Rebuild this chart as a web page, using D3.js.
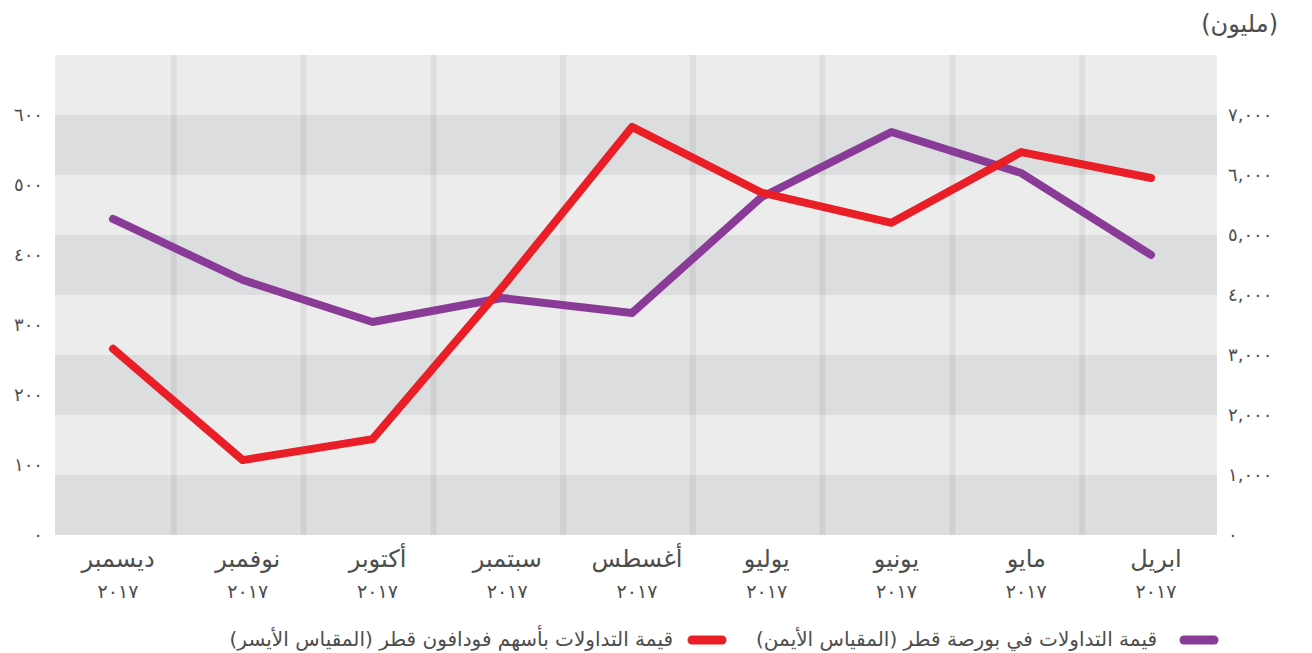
<!DOCTYPE html>
<html>
<head>
<meta charset="utf-8">
<script src="https://cdn.jsdelivr.net/npm/d3@7"></script>
<style>
  body { margin: 0; background: #fff; }
  text { font-family: 'DejaVu Sans', sans-serif; fill: #4d4d4d; }
</style>
</head>
<body>
<script>
// variables:
var w = 1312
var h = 653

// data, months run right-to-left from ابريل to ديسمبر
var months = ['ديسمبر', 'نوفمبر', 'أكتوبر', 'سبتمبر', 'أغسطس', 'يوليو', 'يونيو', 'مايو', 'ابريل']
var yearLabel = '٢٠١٧'
// Vodafone Qatar traded value (left axis)
var vodafone = [266, 107, 137, 354, 583, 489, 446, 547, 510]
// Qatar Exchange traded value (right axis)
var exchange = [5267, 4250, 3550, 3950, 3700, 5633, 6717, 6033, 4667]

var leftTicks = [0, 100, 200, 300, 400, 500, 600]
var leftTickLabels = ['٠', '١٠٠', '٢٠٠', '٣٠٠', '٤٠٠', '٥٠٠', '٦٠٠']
var rightTicks = [0, 1000, 2000, 3000, 4000, 5000, 6000, 7000]
var rightTickLabels = ['٠', '١,٠٠٠', '٢,٠٠٠', '٣,٠٠٠', '٤,٠٠٠', '٥,٠٠٠', '٦,٠٠٠', '٧,٠٠٠']
var bandEdges = [0, 1000, 2000, 3000, 4000, 5000, 6000, 7000, 8000]

var unitLabel = '(مليون)'
var legendExchange = 'قيمة التداولات في بورصة قطر (المقياس الأيمن)'
var legendVodafone = 'قيمة التداولات بأسهم فودافون قطر (المقياس الأيسر)'

var red = '#e91e27'
var purple = '#8a3b97'

var svg = d3.select('body')
  .append('svg')
  .attr('width', w)
  .attr('height', h)

// scales
var plotLeft = 55
var plotRight = 1217
var xScale = d3.scalePoint().domain(months).range([113, 1151])
var yLeft = d3.scaleLinear().domain([0, 600]).range([535, 115])
var yRight = d3.scaleLinear().domain([0, 7000]).range([535, 115])

// background bands
svg.selectAll('rect.band')
  .data(d3.pairs(bandEdges))
  .enter()
  .append('rect')
  .attr('class', 'band')
  .attr('x', plotLeft)
  .attr('width', plotRight - plotLeft)
  .attr('y', function (d) { return yRight(d[1]) })
  .attr('height', function (d) { return yRight(d[0]) - yRight(d[1]) })
  .attr('fill', function (d, i) { return i % 2 === 0 ? '#dcdddf' : '#ececec' })

// vertical separators between months
svg.selectAll('rect.sep')
  .data(d3.pairs(months))
  .enter()
  .append('rect')
  .attr('class', 'sep')
  .attr('x', function (d) { return (xScale(d[0]) + xScale(d[1])) / 2 - 7 })
  .attr('width', 6)
  .attr('y', yRight(8000))
  .attr('height', yRight(0) - yRight(8000))
  .attr('fill', 'rgba(0,0,0,0.055)')

// axis labels
svg.selectAll('text.left')
  .data(leftTicks)
  .enter()
  .append('text')
  .attr('class', 'left')
  .attr('x', 43)
  .attr('y', function (d) { return yLeft(d) })
  .attr('dy', '0.35em')
  .attr('text-anchor', 'end')
  .attr('font-size', '18px')
  .text(function (d, i) { return leftTickLabels[i] })

svg.selectAll('text.right')
  .data(rightTicks)
  .enter()
  .append('text')
  .attr('class', 'right')
  .attr('x', 1228)
  .attr('y', function (d) { return yRight(d) })
  .attr('dy', '0.35em')
  .attr('text-anchor', 'start')
  .attr('font-size', '18px')
  .text(function (d, i) { return rightTickLabels[i] })

// month labels
var xl = svg.selectAll('g.xlabel')
  .data(months)
  .enter()
  .append('g')
  .attr('class', 'xlabel')
  .attr('transform', function (d) { return 'translate(' + (xScale(d) + 5) + ',0)' })
xl.append('text')
  .attr('y', 567)
  .attr('text-anchor', 'middle')
  .attr('font-size', '24px')
  .text(function (d) { return d })
xl.append('text')
  .attr('y', 598)
  .attr('text-anchor', 'middle')
  .attr('font-size', '19px')
  .text(yearLabel)

// lines
var lineLeft = d3.line()
  .x(function (d, i) { return xScale(months[i]) })
  .y(function (d) { return yLeft(d) })
var lineRight = d3.line()
  .x(function (d, i) { return xScale(months[i]) })
  .y(function (d) { return yRight(d) })

svg.append('path')
  .datum(exchange)
  .attr('d', lineRight)
  .attr('fill', 'none')
  .attr('stroke', purple)
  .attr('stroke-width', 8)
  .attr('stroke-linecap', 'round')
  .attr('stroke-linejoin', 'round')

svg.append('path')
  .datum(vodafone)
  .attr('d', lineLeft)
  .attr('fill', 'none')
  .attr('stroke', red)
  .attr('stroke-width', 8)
  .attr('stroke-linecap', 'round')
  .attr('stroke-linejoin', 'round')

// unit label
svg.append('text')
  .attr('x', 1278)
  .attr('y', 32)
  .attr('direction', 'rtl')
  .attr('text-anchor', 'start')
  .attr('font-size', '24px')
  .text(unitLabel)

// legend
var legend = [
  { label: legendExchange, color: purple, x: 1214, tx: 1157 },
  { label: legendVodafone, color: red, x: 722, tx: 673 }
]
var lg = svg.selectAll('g.legend')
  .data(legend)
  .enter()
  .append('g')
  .attr('class', 'legend')
lg.append('line')
  .attr('x1', function (d) { return d.x })
  .attr('x2', function (d) { return d.x - 30 })
  .attr('y1', 640)
  .attr('y2', 640)
  .attr('stroke', function (d) { return d.color })
  .attr('stroke-width', 9)
  .attr('stroke-linecap', 'round')
lg.append('text')
  .attr('x', function (d) { return d.tx })
  .attr('y', 646)
  .attr('direction', 'rtl')
  .attr('text-anchor', 'start')
  .attr('font-size', '20px')
  .text(function (d) { return d.label })
</script>
</body>
</html>
